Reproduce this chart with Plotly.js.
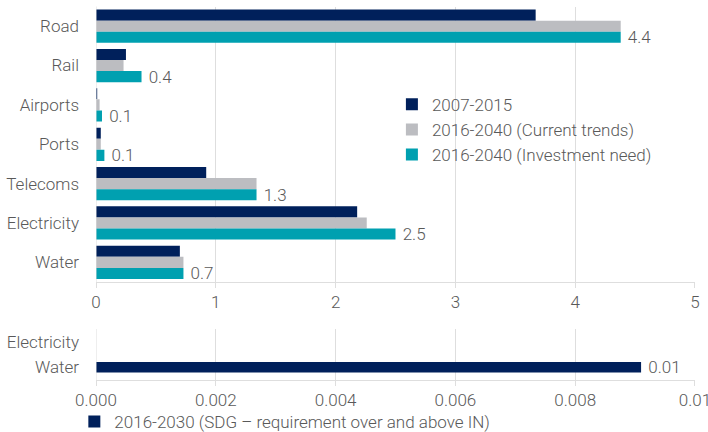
<!DOCTYPE html>
<html>
<head>
<meta charset="utf-8">
<script src="https://cdn.plot.ly/plotly-3.0.1.min.js"></script>
<style>html,body{margin:0;padding:0;background:#fff;}#chart{width:708px;height:432px;}</style>
</head>
<body>
<div id="chart"></div>
<script>
const categories = ["Road", "Rail", "Airports", "Ports", "Telecoms", "Electricity", "Water"];
const hist2007 = [3.67, 0.25, 0.01, 0.04, 0.92, 2.18, 0.70];
const currentTrends = [4.38, 0.23, 0.03, 0.04, 1.34, 2.26, 0.73];
const investmentNeed = [4.38, 0.38, 0.05, 0.07, 1.34, 2.50, 0.73];
const sdgCategories = ["Electricity", "Water"];
const sdgValues = [null, 0.0091];
const topTicks = [0, 1, 2, 3, 4, 5];
const bottomTickVals = [0, 0.002, 0.004, 0.006, 0.008, 0.01];
const bottomTickText = ["0.000", "0.002", "0.004", "0.006", "0.008", "0.01"];

const NAVY = "#00205B", GRAY = "#BCBDC1", TEAL = "#00A0B0";
const FONT = {family: "Roboto, sans-serif", size: 17, color: "#595959", weight: 300};

const traces = [
  {type: "bar", orientation: "h", name: "2007-2015", y: categories, x: hist2007,
   marker: {color: NAVY}, xaxis: "x", yaxis: "y"},
  {type: "bar", orientation: "h", name: "2016-2040 (Current trends)", y: categories, x: currentTrends,
   marker: {color: GRAY}, xaxis: "x", yaxis: "y"},
  {type: "bar", orientation: "h", name: "2016-2040 (Investment need)", y: categories, x: investmentNeed,
   marker: {color: TEAL}, xaxis: "x", yaxis: "y",
   texttemplate: " %{x:.1f}", textposition: "outside", cliponaxis: false, constraintext: "none",
   textfont: FONT},
  {type: "bar", orientation: "h", name: "2016-2030 (SDG \u2013 requirement over and above IN)",
   y: sdgCategories, x: sdgValues, width: 0.42,
   marker: {color: NAVY}, xaxis: "x2", yaxis: "y2", legend: "legend2",
   texttemplate: " %{x:.2f}", textposition: "outside", cliponaxis: false, constraintext: "none",
   textfont: FONT}
];

const gridc = "#dedede";
const layout = {
  width: 708, height: 432,
  margin: {l: 96, r: 13, t: 5, b: 52, autoexpand: false},
  paper_bgcolor: "#fff", plot_bgcolor: "#fff",
  font: FONT,
  barmode: "group", bargap: 0.155, bargroupgap: 0,
  showlegend: true,
  xaxis: {domain: [0, 1], range: [0, 5.0001], tickvals: topTicks, showgrid: true, gridcolor: gridc,
          zeroline: false, showline: true, linecolor: gridc, ticks: "outside", ticklen: 5, tickcolor: gridc,
          anchor: "y", tickfont: FONT, ticklabeloverflow: "allow"},
  yaxis: {domain: [0.2613, 0.996], autorange: "reversed", showgrid: false, zeroline: false,
          showline: false, ticks: "", ticklabelstandoff: 16, anchor: "x", tickfont: FONT},
  xaxis2: {domain: [0, 1], range: [0, 0.0100001], tickvals: bottomTickVals, ticktext: bottomTickText,
           showgrid: true, gridcolor: gridc, zeroline: false, showline: true, linecolor: gridc,
           ticks: "outside", ticklen: 5, tickcolor: gridc, anchor: "y2", tickfont: FONT,
           ticklabeloverflow: "allow"},
  yaxis2: {domain: [0, 0.136], autorange: "reversed", showgrid: false, zeroline: false,
           showline: false, ticks: "", ticklabelstandoff: 16, anchor: "x2", tickfont: FONT},
  shapes: [
    {type: "line", xref: "x", yref: "y domain", x0: 0, x1: 0, y0: 0, y1: 1, line: {color: gridc, width: 1}},
    {type: "line", xref: "x2", yref: "y2 domain", x0: 0, x1: 0, y0: 0, y1: 1, line: {color: gridc, width: 1}}
  ],
  legend: {x: 0.494, y: 0.782, xanchor: "left", yanchor: "top", bgcolor: "rgba(0,0,0,0)",
           font: FONT, traceorder: "normal"},
  legend2: {xref: "container", yref: "container", x: 0.105, y: 0.023, xanchor: "left", yanchor: "middle",
            orientation: "h", bgcolor: "rgba(0,0,0,0)", font: FONT}
};

Plotly.newPlot("chart", traces, layout, {displayModeBar: false, staticPlot: true});
</script>
</body>
</html>
